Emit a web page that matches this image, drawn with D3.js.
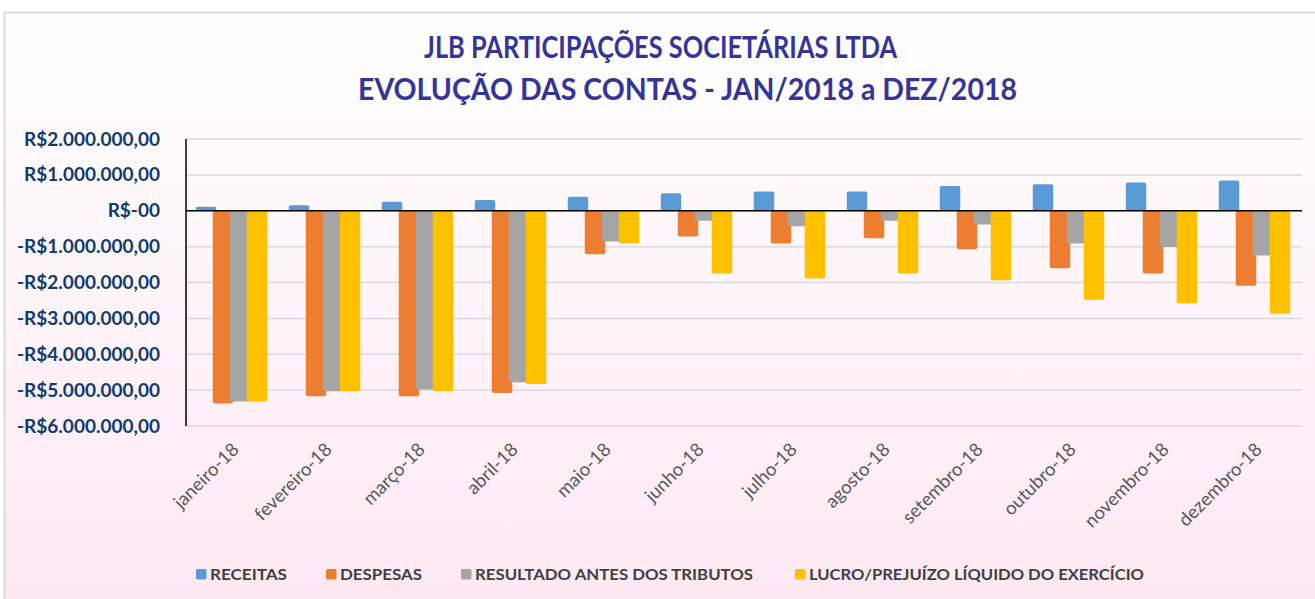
<!DOCTYPE html>
<html>
<head>
<meta charset="utf-8">
<script src="https://cdn.jsdelivr.net/npm/d3@7"></script>
<style>
  body { margin: 0; background: #fff; }
  svg { display: block; }
  .ytick text { font-family: Lato, sans-serif; font-weight: bold; font-size: 19px; fill: #0e3c6e; }
  .xtick text { font-family: Lato, sans-serif; font-size: 18.5px; fill: #595959; }
  .legend text { font-family: Lato, sans-serif; font-weight: bold; font-size: 14.5px; fill: #404040; }
</style>
</head>
<body>
<div id="chart"></div>
<script>
// chart data
var months = ["janeiro-18", "fevereiro-18", "março-18", "abril-18", "maio-18", "junho-18",
  "julho-18", "agosto-18", "setembro-18", "outubro-18", "novembro-18", "dezembro-18"];
var receitas = [110000, 150000, 250000, 300000, 390000, 490000, 540000, 540000, 690000, 740000, 790000, 840000];
var despesas = [-5370000, -5170000, -5170000, -5080000, -1210000, -720000, -910000, -770000, -1070000, -1600000, -1750000, -2090000];
var resultado = [-5320000, -5030000, -4980000, -4780000, -860000, -280000, -430000, -280000, -380000, -910000, -1010000, -1250000];
var lucro = [-5320000, -5030000, -5030000, -4830000, -910000, -1750000, -1890000, -1750000, -1940000, -2480000, -2580000, -2870000];
var seriesNames = ["RECEITAS", "DESPESAS", "RESULTADO ANTES DOS TRIBUTOS", "LUCRO/PREJUÍZO LÍQUIDO DO EXERCÍCIO"];
var yTicks = [2000000, 1000000, 0, -1000000, -2000000, -3000000, -4000000, -5000000, -6000000];
var yTickLabels = ["R$2.000.000,00", "R$1.000.000,00", "R$-00", "-R$1.000.000,00", "-R$2.000.000,00",
  "-R$3.000.000,00", "-R$4.000.000,00", "-R$5.000.000,00", "-R$6.000.000,00"];
var titleLines = ["JLB PARTICIPAÇÕES SOCIETÁRIAS LTDA", "EVOLUÇÃO DAS CONTAS - JAN/2018 a DEZ/2018"];

var colors = ["#5b9bd5", "#ed7d31", "#a5a5a5", "#ffc000"];
var allSeries = [receitas, despesas, resultado, lucro];

var svgWidth = 1315;
var svgHeight = 599;
var plot = { left: 186, right: 1302, top: 139, bottom: 426 };

var svg = d3.select("#chart")
  .append("svg")
  .attr("width", svgWidth)
  .attr("height", svgHeight);

// background with soft pink gradient
var grad = svg.append("defs").append("linearGradient")
  .attr("id", "bg")
  .attr("x1", 0).attr("y1", 0).attr("x2", 0).attr("y2", 1);
grad.append("stop").attr("offset", "0%").attr("stop-color", "#ffffff");
grad.append("stop").attr("offset", "100%").attr("stop-color", "#fde7f1");

svg.append("rect")
  .attr("x", 4.5).attr("y", 12.5)
  .attr("width", svgWidth + 20).attr("height", svgHeight + 20)
  .attr("fill", "url(#bg)")
  .attr("stroke", "#d9d9d9")
  .attr("stroke-width", 2);

// title
var titleX = [424, 358];
var titleW = [473, 659];
var titleY = [58, 100];
svg.selectAll(".title")
  .data(titleLines)
  .enter()
  .append("text")
  .attr("class", "title")
  .attr("x", (d, i) => titleX[i])
  .attr("y", (d, i) => titleY[i])
  .attr("textLength", (d, i) => titleW[i])
  .attr("lengthAdjust", "spacingAndGlyphs")
  .attr("font-family", "Lato, sans-serif")
  .attr("font-weight", "bold")
  .attr("font-size", 30)
  .attr("fill", "#34349b")
  .text(d => d);

// scales
var xScale = d3.scaleBand()
  .domain(months)
  .range([plot.left, plot.right]);

var yScale = d3.scaleLinear()
  .domain([-6000000, 2000000])
  .range([plot.bottom, plot.top]);

var barW = 20.5;
var barStep = 17;
var groupW = barStep * 3 + barW;
var inner = d3.scaleLinear()
  .domain([0, 3])
  .range([-groupW / 2 - 1, -groupW / 2 - 1 + barStep * 3]);

// gridlines
svg.append("g")
  .selectAll("line")
  .data(yTicks)
  .enter()
  .append("line")
  .attr("x1", plot.left)
  .attr("x2", plot.right)
  .attr("y1", d => yScale(d))
  .attr("y2", d => yScale(d))
  .attr("stroke", "#d9d9d9")
  .attr("stroke-width", 1.5);

// y axis labels
var leftAxis = d3.axisLeft(yScale)
  .tickValues(yTicks)
  .tickSize(0)
  .tickPadding(26)
  .tickFormat((d, i) => yTickLabels[i]);

svg.append("g")
  .attr("class", "ytick")
  .attr("transform", `translate(${plot.left}, 0)`)
  .call(leftAxis)
  .call(g => g.select(".domain").remove());

// bars
allSeries.forEach(function(values, s) {
  svg.append("g")
    .selectAll("rect")
    .data(values)
    .enter()
    .append("rect")
    .attr("x", (d, i) => xScale(months[i]) + xScale.bandwidth() / 2 + inner(s))
    .attr("y", d => yScale(Math.max(0, d)))
    .attr("width", barW)
    .attr("height", d => Math.abs(yScale(d) - yScale(0)))
    .attr("rx", 2)
    .attr("fill", colors[s]);
});

// zero line and vertical axis
svg.append("line")
  .attr("x1", plot.left).attr("x2", plot.right)
  .attr("y1", yScale(0)).attr("y2", yScale(0))
  .attr("stroke", "#000").attr("stroke-width", 1.5);

svg.append("line")
  .attr("x1", plot.left).attr("x2", plot.left)
  .attr("y1", plot.top).attr("y2", plot.bottom)
  .attr("stroke", "#000").attr("stroke-width", 1.5);

// x axis labels rotated
var bottomAxis = d3.axisBottom(xScale).tickSize(0).tickPadding(0);
var xAxis = svg.append("g")
  .attr("class", "xtick")
  .attr("transform", `translate(0, ${plot.bottom})`)
  .call(bottomAxis);
xAxis.select(".domain").remove();
xAxis.selectAll("text")
  .attr("text-anchor", "end")
  .attr("dy", "0.35em")
  .attr("y", 0)
  .attr("transform", "translate(3, 20) rotate(-45)");

// legend
var legendX = [196, 326, 461, 795];
var legendW = [77, 82, 278, 335];
var legend = svg.append("g").attr("class", "legend");
seriesNames.forEach(function(name, i) {
  legend.append("rect")
    .attr("x", legendX[i])
    .attr("y", 569)
    .attr("width", 10.5)
    .attr("height", 10.5)
    .attr("rx", 1.5)
    .attr("fill", colors[i]);
  legend.append("text")
    .attr("x", legendX[i] + 14)
    .attr("y", 580)
    .attr("textLength", legendW[i])
    .attr("lengthAdjust", "spacingAndGlyphs")
    .text(name);
});
</script>
</body>
</html>
